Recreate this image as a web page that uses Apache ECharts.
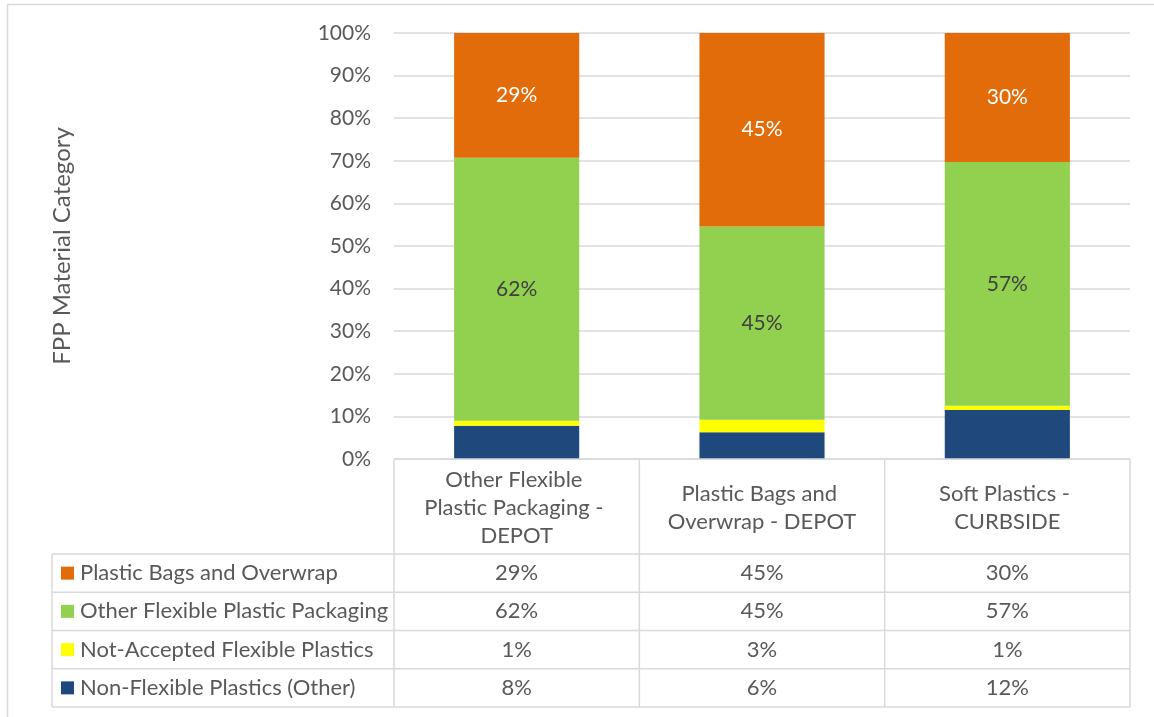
<!DOCTYPE html>
<html>
<head>
<meta charset="utf-8">
<script src="https://cdn.jsdelivr.net/npm/echarts@6/dist/echarts.min.js"></script>
<style>html,body{margin:0;padding:0;background:#fff}#c{width:1154px;height:717px}</style>
</head>
<body>
<div id="c"></div>
<script>
const categories = ['Other Flexible Plastic Packaging - DEPOT', 'Plastic Bags and Overwrap - DEPOT', 'Soft Plastics - CURBSIDE'];
const seriesNames = ['Non-Flexible Plastics (Other)', 'Not-Accepted Flexible Plastics', 'Other Flexible Plastic Packaging', 'Plastic Bags and Overwrap'];
const nonFlexible = [7.8, 6.3, 11.5];
const notAccepted = [1.2, 2.9, 1.0];
const otherFlexible = [61.7, 45.4, 57.2];
const bagsOverwrap = [29.3, 45.4, 30.3];
const yTicks = [0, 10, 20, 30, 40, 50, 60, 70, 80, 90, 100];
const colors = ['#1F497D', '#FFFF00', '#92D050', '#E36C0A'];

const FONT = 'Lato';
const TXT = '#595959';
const LINE = '#D9D9D9';
const fmt = v => Math.round(v) + '%';

const chart = echarts.init(document.getElementById('c'), null, {renderer: 'canvas'});

// layout
const plotL = 394, plotR = 1130, plotT = 33, plotB = 459;
const tableL = 52, headB = 554;
const rowH = 38.25;
const colW = (plotR - plotL) / 3;

const values = [nonFlexible, notAccepted, otherFlexible, bagsOverwrap];
const labelColors = [null, null, '#404040', '#FFFFFF'];

const series = values.map((arr, i) => ({
  name: seriesNames[i],
  type: 'bar',
  stack: 'total',
  barWidth: '51%',
  data: arr,
  itemStyle: {color: colors[i]},
  label: labelColors[i] ? {
    show: true, position: 'inside', color: labelColors[i],
    fontFamily: FONT, fontSize: 21, formatter: p => fmt(p.value)
  } : {show: false},
  emphasis: {disabled: true}
}));

// table graphics
const g = [];
g.push({type: 'rect', shape: {x: 7.5, y: 4.5, width: 1160, height: 720}, style: {fill: null, stroke: LINE, lineWidth: 1.5}, silent: true});
const line = (x1, y1, x2, y2) => g.push({type: 'line', shape: {x1, y1, x2, y2}, style: {stroke: LINE, lineWidth: 1.5}, silent: true, z: 10});
for (let c = 0; c <= 3; c++) {
  const x = plotL + c * colW;
  line(x, plotB, x, headB + rowH * 4);
}
line(tableL, headB, tableL, headB + rowH * 4);
line(plotL, plotB, plotR, plotB);
for (let r = 0; r <= 4; r++) {
  const y = headB + r * rowH;
  line(tableL, y, plotR, y);
}
const order = [3, 2, 1, 0];
order.forEach((si, r) => {
  const cy = headB + r * rowH + rowH / 2;
  g.push({type: 'rect', shape: {x: 61, y: cy - 6.5, width: 13, height: 13}, style: {fill: colors[si]}, silent: true});
  g.push({type: 'text', x: 80, y: cy, style: {text: seriesNames[si], font: '22px ' + FONT, fill: TXT, textVerticalAlign: 'middle', textAlign: 'left'}, silent: true});
  values[si].forEach((v, c) => {
    g.push({type: 'text', x: plotL + colW * (c + 0.5), y: cy, style: {text: fmt(v), font: '22px ' + FONT, fill: TXT, textVerticalAlign: 'middle', textAlign: 'center'}, silent: true});
  });
});
categories.forEach((name, c) => {
  g.push({type: 'text', x: plotL + colW * (c + 0.5), y: (plotB + headB) / 2 + 1,
    style: {text: name, width: 198, overflow: 'break', font: '22px ' + FONT, fill: TXT, align: 'center', verticalAlign: 'middle', lineHeight: 28}, silent: true});
});

chart.setOption({
  animation: false,
  backgroundColor: '#fff',
  grid: {left: plotL, right: 1154 - plotR, top: plotT, bottom: 717 - plotB, containLabel: false},
  xAxis: {
    type: 'category', data: categories,
    axisLine: {show: false}, axisTick: {show: false}, axisLabel: {show: false}
  },
  yAxis: {
    type: 'value', min: 0, max: 100, interval: 10,
    name: 'FPP Material Category', nameLocation: 'middle', nameGap: 320, nameRotate: 90,
    nameTextStyle: {fontFamily: FONT, fontSize: 24, color: TXT},
    axisLine: {show: false}, axisTick: {show: false},
    axisLabel: {formatter: v => yTicks.includes(v) ? v + '%' : '', fontFamily: FONT, fontSize: 21, color: TXT, margin: 23},
    splitLine: {lineStyle: {color: LINE, width: 1.5}}
  },
  series: series,
  graphic: {elements: g}
});
</script>
</body>
</html>
